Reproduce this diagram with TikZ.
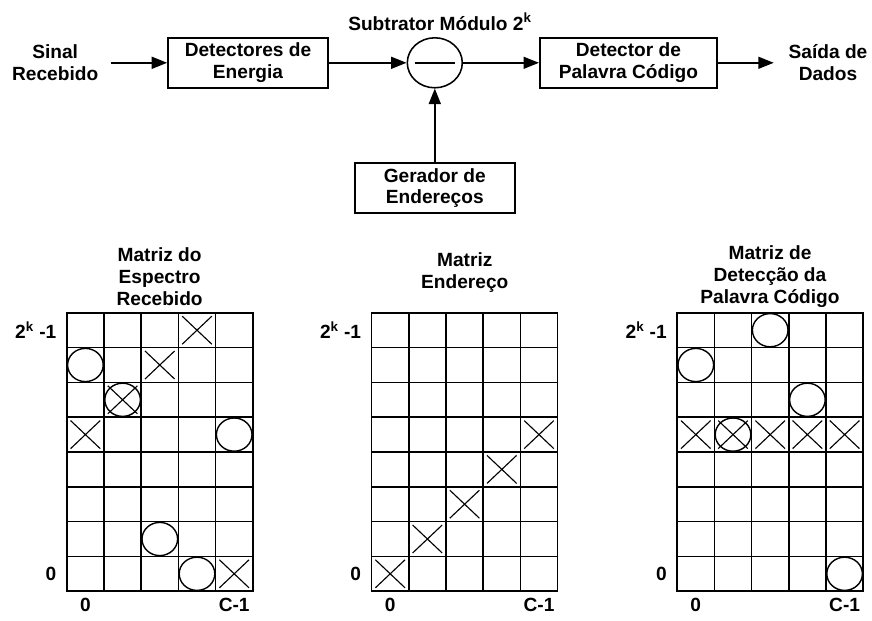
\documentclass[tikz,border=0pt]{standalone}
\usepackage{fontspec}
\setmainfont{Liberation Sans}
\usetikzlibrary{arrows.meta,shapes.geometric}

\begin{document}
\begin{tikzpicture}[x=1cm,y=1cm]

	\tikzset{
		texto/.style={
			font=\bfseries\fontsize{13.6}{15.5}\selectfont,
			align=center
		},
		bloco/.style={
			texto,
			draw,
			line width=1.2pt,
			minimum height=1.25cm,
			inner sep=2pt
		},
		seta/.style={line width=1.2pt, -{Triangle[length=11pt,width=8.5pt]}},
		grade/.style={line width=1.1pt, line cap=rect},
		bola/.style={line width=1pt},
		xis/.style={line width=0.8pt}
	}

	\newcommand{\Matriz}[2]{
		\foreach \i in {0,...,5} \draw[grade] (#1+\i*0.93,0.72) -- ++(0,6.96);
		\foreach \j in {0,...,8} \draw[grade] (#1,0.72+\j*0.87) -- ++(4.65,0);
		\node[texto, anchor=east, inner sep=1pt] (#2-topo) at (#1-0.22,7.245) {2\textsuperscript{k} -1};
		\node[texto, anchor=east, inner sep=1pt] (#2-base) at (#1-0.22,1.155) {0};
		\node[texto] (#2-zero) at (#1+0.465,0.37) {0};
		\node[texto] (#2-ult) at (#1+4.185,0.37) {C-1};
	}

	\newcommand{\Bola}[3]{
		\draw[bola] (#1+#2*0.93+0.465,0.72+#3*0.87+0.435) ellipse (0.445 and 0.415);
	}

	\newcommand{\Xis}[3]{
		\draw[xis] (#1+#2*0.93+0.465,0.72+#3*0.87+0.435) ++(-0.37,-0.35) -- ++(0.74,0.7) ++(-0.74,0) -- ++(0.74,-0.7);
	}

	\useasboundingbox (0,0) rectangle (21.8,15.5);

	\node[texto] (sinal) at (1.38,13.93) {Sinal\\Recebido};
	\node[bloco, minimum width=4cm] (detener) at (6.2,13.93) {Detectores de\\Energia};
	\node[draw, ellipse, line width=1.1pt, minimum width=1.375cm, minimum height=1.25cm] (sub) at (10.87,13.93) {};
	\node[texto] (sublabel) at (11.0,14.96) {Subtrator Módulo 2\textsuperscript{k}};
	\node[bloco, minimum width=4.43cm] (detpal) at (15.71,13.93) {Detector de\\Palavra Código};
	\node[texto] (saida) at (20.7,13.93) {Saída de\\Dados};
	\node[bloco, minimum width=4cm] (ger) at (10.87,10.8) {Gerador de\\Endereços};

	\draw[line width=1.1pt] ([xshift=2mm]sub.west) -- ([xshift=-2mm]sub.east);

	\draw[seta] ([xshift=2mm]sinal.east) -- (detener.west);
	\draw[seta] (detener.east) -- (sub.west);
	\draw[seta] (sub.east) -- (detpal.west);
	\draw[seta] (detpal.east) -- ([xshift=-2.5mm]saida.west);
	\draw[seta] (ger.north) -- (sub.south);

	\node[texto] (tit1) at (3.99,8.58) {Matriz do\\Espectro\\Recebido};
	\node[texto] (tit2) at (11.62,8.69) {Matriz\\Endereço};
	\node[texto] (tit3) at (19.25,8.58) {Matriz de\\Detecção da\\Palavra Código};

	\Matriz{1.67}{ma}
	\Matriz{9.29}{mb}
	\Matriz{16.93}{mc}

	\Xis{1.67}{3}{7}
	\Bola{1.67}{0}{6}
	\Xis{1.67}{2}{6}
	\Bola{1.67}{1}{5}
	\Xis{1.67}{1}{5}
	\Xis{1.67}{0}{4}
	\Bola{1.67}{4}{4}
	\Bola{1.67}{2}{1}
	\Bola{1.67}{3}{0}
	\Xis{1.67}{4}{0}

	\Xis{9.29}{0}{0}
	\Xis{9.29}{1}{1}
	\Xis{9.29}{2}{2}
	\Xis{9.29}{3}{3}
	\Xis{9.29}{4}{4}

	\Bola{16.93}{2}{7}
	\Bola{16.93}{0}{6}
	\Bola{16.93}{3}{5}
	\Xis{16.93}{0}{4}
	\Xis{16.93}{1}{4}
	\Bola{16.93}{1}{4}
	\Xis{16.93}{2}{4}
	\Xis{16.93}{3}{4}
	\Xis{16.93}{4}{4}
	\Bola{16.93}{4}{0}

\end{tikzpicture}
\end{document}
